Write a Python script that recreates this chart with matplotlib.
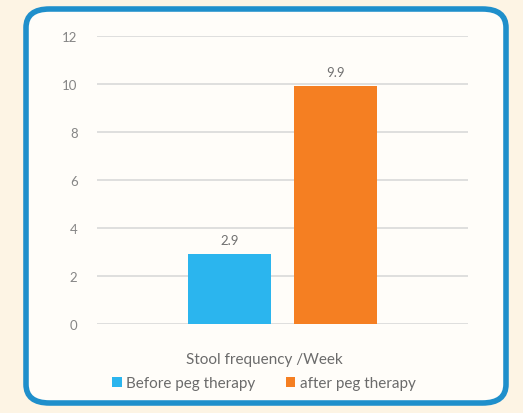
import numpy as np
import matplotlib.pyplot as plt
from matplotlib.patches import FancyBboxPatch

plt.rcParams['font.family'] = ['Lato', 'DejaVu Sans']

# 数据
series = ['Before peg therapy', 'after peg therapy']
values = [2.9, 9.9]
colors = ['#2bb5ee', '#f57f22']
xlabel = 'Stool frequency /Week'
yticks = [0, 2, 4, 6, 8, 10, 12]

W, H = 523, 414
fig = plt.figure(figsize=(W / 100, H / 100), dpi=100)
fig.patch.set_facecolor('#fdf4e4')

# 圆角外框
box = FancyBboxPatch((26 / W, 10 / H), 480 / W, 394 / H,
                     boxstyle='round,pad=0,rounding_size=0.045',
                     transform=fig.transFigure, facecolor='#fffdf9',
                     edgecolor='#1f8fcb', linewidth=4, zorder=-1)
fig.patches.append(box)

ax = fig.add_axes([97 / W, 1 - 325 / H, 371 / W, 288 / H])
ax.set_zorder(1)
ax.set_facecolor('none')

offsets = [-0.285, 0.285]
for name, v, c, off in zip(series, values, colors, offsets):
    ax.bar(off, v, width=0.45, color=c, label=name, zorder=3)
    ax.text(off, v + 0.35, str(v), ha='center', va='bottom', fontsize=9.5, color='#707070')

ax.set_xlim(-1, 1)
ax.set_ylim(0, 12)
ax.set_yticks(yticks)
ax.set_yticklabels([str(t) for t in yticks], fontsize=9.5, color='#858585')
ax.yaxis.grid(True, color='#dcdcdc', linewidth=1.3, zorder=0)
ax.set_axisbelow(True)
ax.set_xticks([])
ax.tick_params(axis='y', length=0, pad=14)
for s in ax.spines.values():
    s.set_visible(False)

ax.set_xlabel(xlabel, fontsize=11, color='#6b6b6b', va='center')
ax.xaxis.set_label_coords(0.45, -0.122)
ax.legend(loc='center', bbox_to_anchor=(0.45, -0.205), ncol=2, frameon=False,
          fontsize=11, labelcolor='#6b6b6b', handlelength=0.6, handleheight=0.6,
          handletextpad=0.3, columnspacing=2.0)

plt.savefig('out.png', dpi=100, facecolor=fig.get_facecolor())
